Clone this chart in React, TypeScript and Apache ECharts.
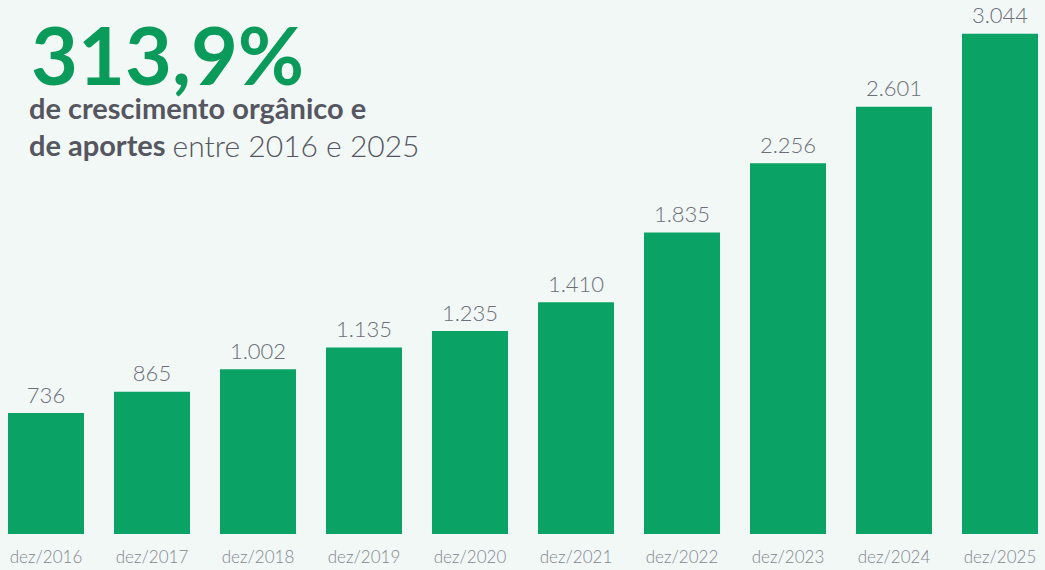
import React, { useEffect, useRef } from "react";
import * as echarts from "echarts";

const categories = ["dez/2016", "dez/2017", "dez/2018", "dez/2019", "dez/2020", "dez/2021", "dez/2022", "dez/2023", "dez/2024", "dez/2025"];
const values = [736, 865, 1002, 1135, 1235, 1410, 1835, 2256, 2601, 3044];
const headline = "313,9%";

const fmt = (v: number) => {
  const s = String(v);
  return s.length > 3 ? s.slice(0, s.length - 3) + "." + s.slice(s.length - 3) : s;
};

const OFF = 7;

export default function App() {
  const ref = useRef<HTMLDivElement>(null);
  useEffect(() => {
    document.body.style.margin = "0";
    document.body.style.background = "#f1f8f6";
    const chart = echarts.init(ref.current!, null, { renderer: "svg" });
    chart.setOption({
      animation: false,
      backgroundColor: "#f1f8f6",
      grid: { left: 0, right: 0, top: 0, bottom: 36, containLabel: false },
      xAxis: {
        type: "category",
        data: categories,
        axisLine: { show: false },
        axisTick: { show: false },
        axisLabel: { color: "#85868e", fontSize: 17, fontFamily: "Lato", fontWeight: 300, margin: 14 },
      },
      yAxis: { type: "value", min: 0, max: 3250, show: false, splitLine: { show: false } },
      series: [
        {
          type: "bar",
          data: values,
          barWidth: 76,
          itemStyle: { color: "#0ba365" },
          label: {
            show: true,
            position: "top",
            distance: 8,
            color: "#6d6e78",
            fontSize: 22,
            fontFamily: "Lato",
            fontWeight: 300,
            formatter: (p: any) => fmt(p.value),
          },
        },
      ],
      graphic: [
        {
          type: "text",
          left: 31 + OFF,
          top: 13,
          style: { text: headline, fill: "#0a9a5a", font: "bold 81px Lato", lineHeight: 60 },
        },
        {
          type: "text",
          left: 29 + OFF,
          top: 93,
          style: {
            text: "{b|de crescimento orgânico e}\n{b|de aportes }{l|entre 2016 e 2025}",
            rich: {
              b: { fill: "#55565f", font: "bold 29px Lato", lineHeight: 37 },
              l: { fill: "#55565f", font: "300 30px Lato", lineHeight: 37 },
            },
          },
        },
      ],
    });
    return () => chart.dispose();
  }, []);
  return <div ref={ref} style={{ position: "fixed", left: -OFF, top: 0, width: 1060, height: 570 }} />;
}
